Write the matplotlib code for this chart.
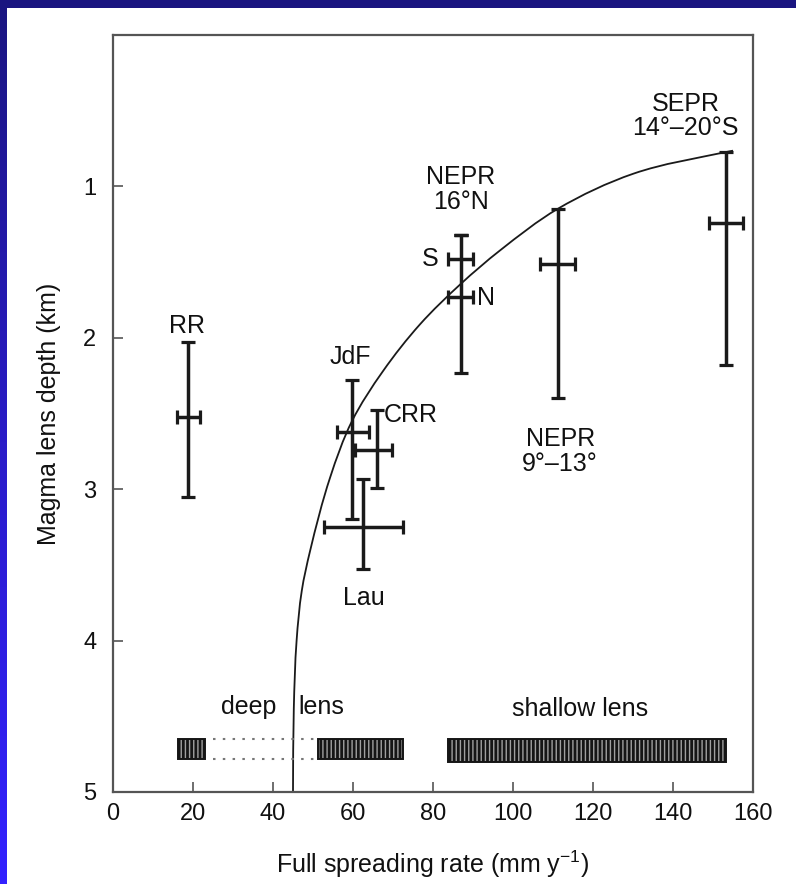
import matplotlib
matplotlib.use("Agg")
import matplotlib.pyplot as plt
import numpy as np
from matplotlib.patches import Rectangle, PathPatch
from matplotlib.path import Path
from matplotlib.colors import LinearSegmentedColormap

plt.rcParams['font.family'] = ['Liberation Sans', 'DejaVu Sans']
plt.rcParams['mathtext.fontset'] = 'custom'
plt.rcParams['mathtext.rm'] = 'Liberation Sans'
plt.rcParams['mathtext.it'] = 'Liberation Sans:italic'
plt.rcParams['hatch.linewidth'] = 1.0

# ---- data ----
sites = ['RR', 'JdF', 'CRR', 'Lau', 'NEPR 9-13', 'SEPR']
rate = [18.8, 59.7, 65.9, 62.6, 111.2, 153.2]
depth = [2.52, 2.62, 2.74, 3.25, 1.51, 1.24]
rate_min = [15.9, 55.9, 60.5, 52.7, 106.8, 148.9]
rate_max = [21.7, 64.0, 69.8, 72.5, 115.6, 157.5]
depth_min = [2.03, 2.28, 2.48, 2.93, 1.15, 0.77]
depth_max = [3.05, 3.20, 2.99, 3.53, 2.40, 2.18]

# NEPR 16N: two segments (S, N) sharing one depth range
n16_rate = 86.9
n16_depth = [1.48, 1.73]
n16_rate_err = [3.1, 3.1]
n16_depth_range = [1.32, 2.23]

# model curve
curve_rate = [45.0, 45.2, 45.9, 47.2, 49.25, 54.25, 59.75, 67.5, 76.75,
              86.9, 96.75, 111.2, 130.1, 153.25, 155.0]
curve_depth = [5.0, 4.45, 4.0, 3.67, 3.41, 2.925, 2.55, 2.22, 1.911,
               1.645, 1.423, 1.148, 0.916, 0.773, 0.764]

# lens bars
deep_bars = [(16.3, 23.0), (51.3, 72.6)]
deep_dotted = (25.0, 51.0)
shallow_bar = (83.8, 153.25)
bar_top, bar_bottom = 4.65, 4.78

labels = [('RR', 18.6, 1.92), ('JdF', 59.3, 2.13), ('CRR', 74.5, 2.51),
          ('Lau', 62.8, 3.72), ('NEPR\n16°N', 87.0, 1.02), ('S', 79.4, 1.48),
          ('N', 93.2, 1.74), ('NEPR\n9°–13°', 111.8, 2.75),
          ('SEPR\n14°–20°S', 143.2, 0.535), ('deep', 34.0, 4.44),
          ('lens', 52.2, 4.44), ('shallow lens', 116.8, 4.45)]

xticks = [0, 20, 40, 60, 80, 100, 120, 140, 160]
yticks = [1, 2, 3, 4, 5]

# ---- figure ----
W, H = 796, 884
fig = plt.figure(figsize=(W / 100, H / 100), dpi=100, facecolor='white')

# background frame: top band + left gradient band
top_ax = fig.add_axes([0, 1 - 8 / H, 1, 8 / H])
top_ax.set_axis_off()
top_ax.add_patch(Rectangle((0, 0), 1, 1, color='#1a1580', transform=top_ax.transAxes))
left_ax = fig.add_axes([0, 0, 7 / W, 1])
left_ax.set_axis_off()
grad = np.linspace(0, 1, 256).reshape(-1, 1)
cm = LinearSegmentedColormap.from_list('b', ['#1a1580', '#2a1cc8', '#3322ff'])
left_ax.imshow(grad, aspect='auto', cmap=cm, extent=[0, 1, 0, 1], origin='upper')

ax = fig.add_axes([113 / W, 1 - 792 / H, 640 / W, 757 / H])
ax.set_xlim(0, 160)
ax.set_ylim(5, 0)

ekw = dict(fmt='none', ecolor='#1a1a1a', elinewidth=2.5, capsize=5, capthick=2.3)
for r, d, rmin, rmax, dmin, dmax in zip(rate, depth, rate_min, rate_max, depth_min, depth_max):
    ax.errorbar([r], [d], xerr=[[r - rmin], [rmax - r]], **ekw)
    ax.errorbar([r], [d], yerr=[[d - dmin], [dmax - d]], **ekw)

for d, e in zip(n16_depth, n16_rate_err):
    ax.errorbar([n16_rate], [d], xerr=[[e], [e]], **ekw)
mid = n16_depth_range[0]
ax.errorbar([n16_rate], [mid], yerr=[[0], [n16_depth_range[1] - mid]], **ekw)
ax.errorbar([n16_rate], [mid], yerr=[[0.0], [0.0]], **ekw)

# smooth rendering through the read curve points (cubic Bezier, tangent from
# averaged unit chord directions, computed in display-like scaled space)
sx, sy = 4.0, 151.0
P = np.column_stack([np.array(curve_rate) * sx, np.array(curve_depth) * sy])
n = len(P)
T = np.zeros_like(P)
for i in range(n):
    if i == 0:
        d = P[1] - P[0]
        T[i] = d / np.linalg.norm(d)
    elif i == n - 1:
        d = P[-1] - P[-2]
        T[i] = d / np.linalg.norm(d)
    else:
        a = P[i] - P[i - 1]
        b = P[i + 1] - P[i]
        t = a / np.linalg.norm(a) + b / np.linalg.norm(b)
        T[i] = t / np.linalg.norm(t)
verts = [tuple(P[0])]
codes = [Path.MOVETO]
for i in range(n - 1):
    L = np.linalg.norm(P[i + 1] - P[i])
    c1 = P[i] + T[i] * L / 3.0
    c2 = P[i + 1] - T[i + 1] * L / 3.0
    verts += [tuple(c1), tuple(c2), tuple(P[i + 1])]
    codes += [Path.CURVE4] * 3
verts = [(vx / sx, vy / sy) for vx, vy in verts]
ax.add_patch(PathPatch(Path(verts, codes), facecolor='none',
                       edgecolor='#1a1a1a', lw=1.3))

def hatched_bar(x0, x1, y0, y1):
    ax.add_patch(Rectangle((x0, y0), x1 - x0, y1 - y0, facecolor='#151515',
                           edgecolor='none', zorder=3))
    ax.add_patch(Rectangle((x0, y0), x1 - x0, y1 - y0, facecolor='none',
                           edgecolor='#a0a0a0', hatch='||||', lw=0, zorder=4))
    ax.add_patch(Rectangle((x0, y0), x1 - x0, y1 - y0, facecolor='none',
                           edgecolor='#151515', lw=1.4, zorder=5))

for x0, x1 in deep_bars:
    hatched_bar(x0, x1, bar_top, bar_bottom)
hatched_bar(shallow_bar[0], shallow_bar[1], bar_top, bar_bottom + 0.02)
for yy in (bar_top, bar_bottom):
    ax.plot(deep_dotted, [yy, yy], color='#777777', lw=1.5, ls=(0, (1.2, 3.5)))

for txt, x, y in labels:
    ax.text(x, y, txt, ha='center', va='center', fontsize=18, color='#111111',
            linespacing=1.05)

ax.set_xticks(xticks)
ax.set_yticks(yticks)
ax.tick_params(direction='in', length=7, width=1.2, color='#555555',
               labelsize=17, labelcolor='#111111')
ax.tick_params(axis='x', pad=8)
ax.tick_params(axis='y', pad=12)
for s in ax.spines.values():
    s.set_color('#555555')
    s.set_linewidth(1.6)

ax.set_xlabel('Full spreading rate (mm y$^{-1}$)', fontsize=18, color='#111111', labelpad=17)
ax.set_ylabel('Magma lens depth (km)', fontsize=18, color='#111111', labelpad=16)

fig.savefig('out.png', dpi=100, facecolor='white')
